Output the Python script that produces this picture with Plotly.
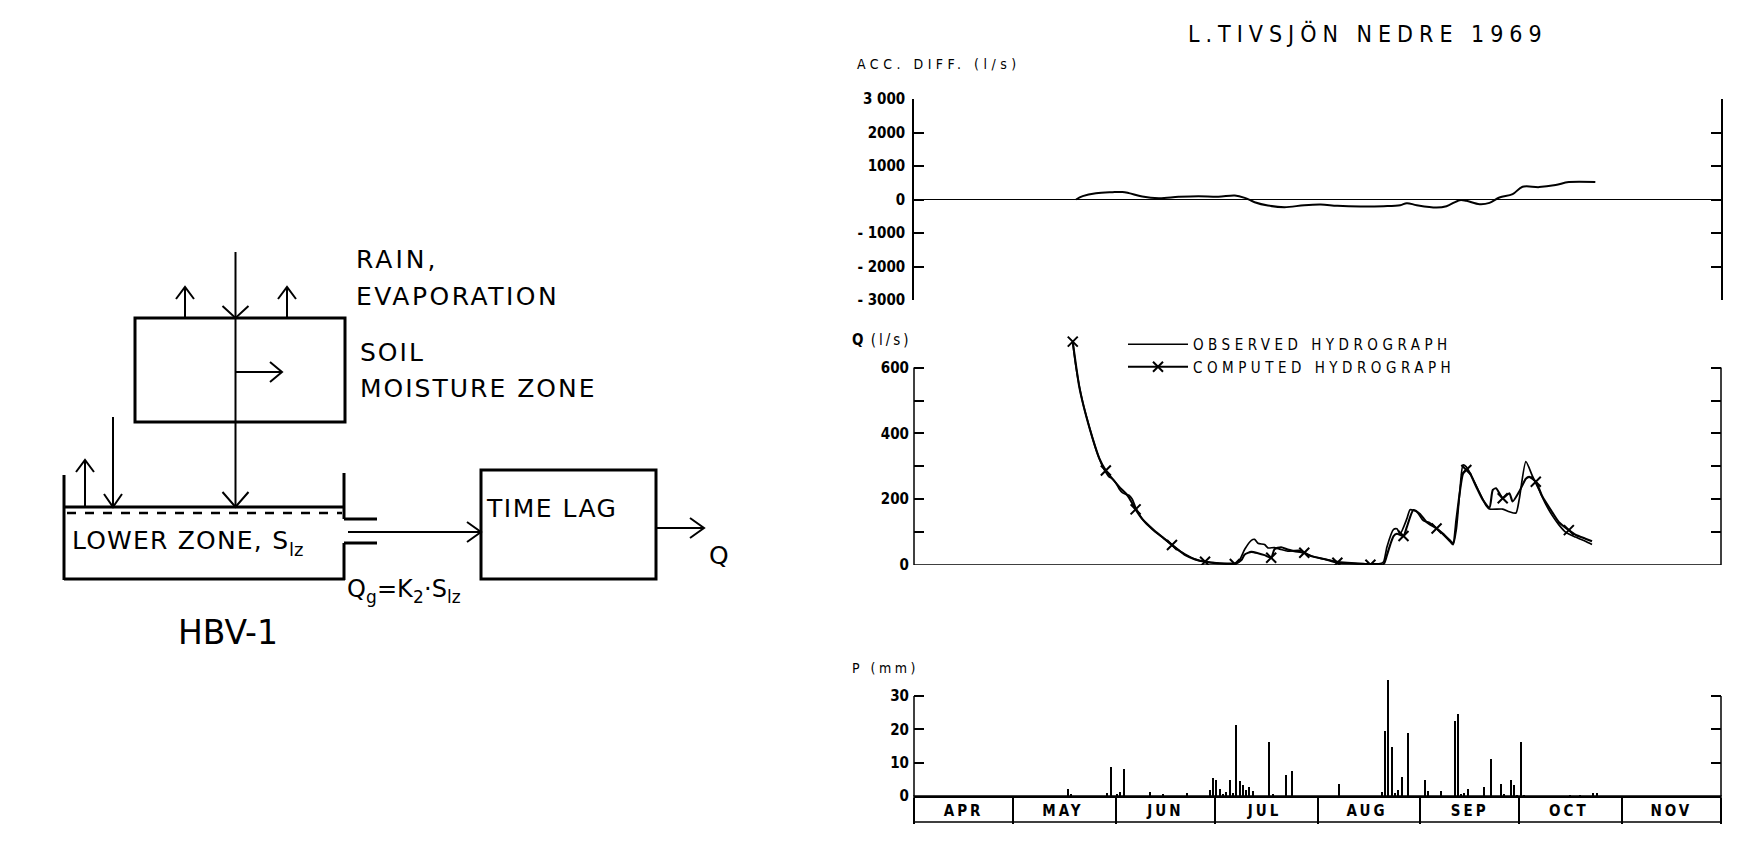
import plotly.graph_objects as go

W, H = 1743, 842

# ---- values ----
acc_dates = ["1969-05-20", "1969-05-22", "1969-05-26", "1969-05-31", "1969-06-03", "1969-06-05",
             "1969-06-09", "1969-06-14", "1969-06-20", "1969-06-26", "1969-07-02", "1969-07-07",
             "1969-07-10", "1969-07-13", "1969-07-17", "1969-07-22", "1969-07-28", "1969-08-02",
             "1969-08-07", "1969-08-14", "1969-08-21", "1969-08-26", "1969-08-28", "1969-08-31",
             "1969-09-06", "1969-09-09", "1969-09-13", "1969-09-15", "1969-09-19", "1969-09-22",
             "1969-09-25", "1969-09-29", "1969-10-02", "1969-10-07", "1969-10-12", "1969-10-16",
             "1969-10-24"]
acc_diff = [0, 100, 190, 220, 225, 190, 90, 40, 80, 100, 80, 120, 50, -80, -180, -230, -170, -150,
            -190, -210, -200, -170, -110, -170, -240, -200, -20, -40, -140, -100, 60, 160, 380, 370,
            430, 520, 520]

obs_dates = ["1969-05-19", "1969-05-20", "1969-05-22", "1969-05-24", "1969-05-26", "1969-05-28",
             "1969-05-29", "1969-05-30", "1969-05-31", "1969-06-01", "1969-06-02", "1969-06-03",
             "1969-06-04", "1969-06-05", "1969-06-06", "1969-06-07", "1969-06-09", "1969-06-11",
             "1969-06-13", "1969-06-15", "1969-06-18", "1969-06-20", "1969-06-22", "1969-06-25",
             "1969-06-28", "1969-07-02", "1969-07-06", "1969-07-08", "1969-07-10", "1969-07-12",
             "1969-07-13", "1969-07-14", "1969-07-16", "1969-07-17", "1969-07-19", "1969-07-21",
             "1969-07-23", "1969-07-25", "1969-07-27", "1969-07-29", "1969-08-02", "1969-08-06",
             "1969-08-10", "1969-08-15", "1969-08-20", "1969-08-21", "1969-08-22", "1969-08-24",
             "1969-08-25", "1969-08-26", "1969-08-28", "1969-08-29", "1969-08-31", "1969-09-02",
             "1969-09-04", "1969-09-06", "1969-09-08", "1969-09-10", "1969-09-11", "1969-09-12",
             "1969-09-13", "1969-09-14", "1969-09-15", "1969-09-17", "1969-09-19", "1969-09-21",
             "1969-09-22", "1969-09-26", "1969-09-28", "1969-09-30", "1969-10-01", "1969-10-03",
             "1969-10-05", "1969-10-07", "1969-10-09", "1969-10-11", "1969-10-13", "1969-10-15",
             "1969-10-18", "1969-10-21", "1969-10-23"]
obs_q = [675, 600, 495, 420, 352, 300, 282, 268, 262, 250, 232, 220, 215, 212, 200, 175, 140, 118,
         100, 85, 60, 45, 33, 18, 10, 6, 5, 8, 48, 75, 78, 66, 62, 52, 53, 47, 42, 44, 44, 32, 20,
         12, 7, 4, 4, 10, 55, 108, 110, 95, 140, 168, 162, 135, 128, 112, 92, 72, 62, 110, 220, 304,
         298, 262, 220, 180, 170, 170, 162, 158, 200, 314, 270, 228, 185, 150, 122, 100, 85, 72, 62]

comp_dates = ["1969-05-19", "1969-05-21", "1969-05-23", "1969-05-25", "1969-05-27", "1969-05-29",
              "1969-05-31", "1969-06-02", "1969-06-04", "1969-06-05", "1969-06-07", "1969-06-09",
              "1969-06-11", "1969-06-13", "1969-06-15", "1969-06-18", "1969-06-20", "1969-06-22",
              "1969-06-25", "1969-06-28", "1969-07-02", "1969-07-07", "1969-07-09", "1969-07-10",
              "1969-07-12", "1969-07-14", "1969-07-16", "1969-07-18", "1969-07-19", "1969-07-21",
              "1969-07-23", "1969-07-25", "1969-07-28", "1969-07-30", "1969-08-03", "1969-08-07",
              "1969-08-12", "1969-08-17", "1969-08-21", "1969-08-22", "1969-08-23", "1969-08-24",
              "1969-08-25", "1969-08-27", "1969-08-28", "1969-08-30", "1969-09-01", "1969-09-03",
              "1969-09-06", "1969-09-08", "1969-09-10", "1969-09-11", "1969-09-12", "1969-09-14",
              "1969-09-15", "1969-09-16", "1969-09-18", "1969-09-20", "1969-09-22", "1969-09-23",
              "1969-09-24", "1969-09-26", "1969-09-28", "1969-09-29", "1969-10-01", "1969-10-03",
              "1969-10-04", "1969-10-06", "1969-10-08", "1969-10-11", "1969-10-13", "1969-10-16",
              "1969-10-18", "1969-10-21", "1969-10-23"]
comp_q = [679, 540, 455, 385, 325, 287, 262, 238, 218, 205, 169, 140, 120, 102, 86, 61, 45, 30, 17,
          10, 5, 3, 15, 32, 40, 36, 30, 22, 48, 54, 47, 42, 37, 27, 18, 7, 4, 1, 3, 30, 62, 88, 95,
          88, 115, 167, 155, 130, 111, 95, 75, 66, 140, 278, 289, 280, 238, 198, 175, 228, 233, 203,
          218, 193, 223, 262, 268, 253, 208, 160, 130, 106, 92, 80, 72]
# days on which the computed curve carries an X
comp_marks = ["1969-05-19", "1969-05-29", "1969-06-07", "1969-06-18", "1969-06-28", "1969-07-07",
              "1969-07-18", "1969-07-28", "1969-08-07", "1969-08-17", "1969-08-27", "1969-09-06",
              "1969-09-15", "1969-09-26", "1969-10-06", "1969-10-16"]

p_dates = ["1969-05-17", "1969-05-18", "1969-05-29", "1969-05-30", "1969-06-01", "1969-06-02",
           "1969-06-03", "1969-06-11", "1969-06-15", "1969-06-22", "1969-06-29", "1969-06-30",
           "1969-07-01", "1969-07-02", "1969-07-03", "1969-07-04", "1969-07-05", "1969-07-06",
           "1969-07-07", "1969-07-08", "1969-07-09", "1969-07-10", "1969-07-11", "1969-07-12",
           "1969-07-17", "1969-07-18", "1969-07-22", "1969-07-24", "1969-08-07", "1969-08-20",
           "1969-08-21", "1969-08-22", "1969-08-23", "1969-08-24", "1969-08-25", "1969-08-26",
           "1969-08-28", "1969-09-02", "1969-09-03", "1969-09-07", "1969-09-11", "1969-09-12",
           "1969-09-13", "1969-09-14", "1969-09-15", "1969-09-20", "1969-09-22", "1969-09-25",
           "1969-09-26", "1969-09-28", "1969-09-29", "1969-09-30", "1969-10-01", "1969-10-02",
           "1969-10-16", "1969-10-19", "1969-10-23", "1969-10-24"]
p_mm = [2.2, 0.6, 0.9, 8.7, 0.8, 1.2, 8.2, 1.2, 0.7, 1.0, 1.9, 5.5, 5.0, 2.2, 0.6, 1.2, 5.0, 0.9,
        21.4, 4.7, 3.5, 2.0, 2.9, 1.5, 16.4, 0.7, 6.4, 7.7, 3.6, 1.2, 19.7, 34.8, 14.7, 0.9, 2.0,
        5.9, 18.9, 4.9, 1.7, 1.5, 22.5, 24.7, 0.7, 1.0, 2.2, 2.7, 11.2, 3.7, 0.7, 4.9, 3.5, 0.4,
        16.2, 0.5, 0.2, 0.2, 1.0, 1.0]

months = ["APR", "MAY", "JUN", "JUL", "AUG", "SEP", "OCT", "NOV"]
month_starts = ["1969-04-01", "1969-05-01", "1969-06-01", "1969-07-01", "1969-08-01",
                "1969-09-01", "1969-10-01", "1969-11-01", "1969-12-01"]
month_mids = ["1969-04-16", "1969-05-16", "1969-06-16", "1969-07-16", "1969-08-16",
              "1969-09-16", "1969-10-16", "1969-11-16"]

acc_ticks = [-3000, -2000, -1000, 0, 1000, 2000, 3000]
acc_labels = ["- 3000", "- 2000", "- 1000", "0", "1000", "2000", "3 000"]
q_ticks = [0, 200, 400, 600]
q_minor = [100, 300, 500]
p_ticks = [0, 10, 20, 30]


def fx(x):
    return x / W


def fy(y):
    return 1 - y / H


def ls(t, px):
    return '<span style="letter-spacing:%spx">%s</span>' % (px, t)


FONT = "DejaVu Sans Condensed, DejaVu Sans, sans-serif"
DIAG = "DejaVu Sans, sans-serif"

fig = go.Figure()

fig.add_trace(go.Scatter(x=acc_dates, y=acc_diff, mode="lines", xaxis="x", yaxis="y",
                         line=dict(color="black", width=2, shape="spline"), showlegend=False))

fig.add_trace(go.Scatter(x=obs_dates, y=obs_q, mode="lines", xaxis="x", yaxis="y2",
                         name=ls("OBSERVED HYDROGRAPH", 4.5),
                         line=dict(color="black", width=1.7, shape="spline", smoothing=0.6)))

mark_col = ["black" if d in comp_marks else "rgba(0,0,0,0)" for d in comp_dates]
fig.add_trace(go.Scatter(x=comp_dates, y=comp_q, mode="lines+markers", xaxis="x", yaxis="y2",
                         name=ls("COMPUTED HYDROGRAPH", 4.5),
                         line=dict(color="black", width=2.1, shape="spline", smoothing=0.6),
                         marker=dict(symbol="x-thin", size=10, color=mark_col,
                                     line=dict(color=mark_col, width=2))))

fig.add_trace(go.Bar(x=p_dates, y=p_mm, xaxis="x", yaxis="y3", xperiod=86400000,
                     xperiodalignment="middle", width=0.45 * 86400000,
                     marker=dict(color="black", line=dict(width=0)), showlegend=False))

X_DOM = [fx(914), fx(1721)]
tickfont = dict(family=FONT, size=15, color="black", weight="bold")
yax = dict(ticks="inside", ticklen=10, tickwidth=1.5, tickcolor="black", showgrid=False,
           tickmode="array", tickfont=tickfont, anchor="x", mirror="ticks", ticklabelstandoff=4,
           automargin=False)

shapes = []
# axis pieces that stop at the last labelled tick
for ref, top in (("y2", 600), ("y3", 30)):
    for xd in (0, 1):
        shapes.append(dict(type="line", xref="x domain", yref=ref, x0=xd, x1=xd, y0=0, y1=top,
                           line=dict(color="black", width=1.5)))
shapes.append(dict(type="line", xref="x domain", yref="y2", x0=0, x1=1, y0=0, y1=0,
                   line=dict(color="black", width=1.5)))
# month table under the precipitation axis
shapes.append(dict(type="rect", xref="x domain", yref="paper", x0=0, x1=1, y0=fy(822), y1=fy(796),
                   line=dict(color="black", width=1.5)))


# ---- HBV-1 sketch on the left ----
def seg(x0, y0, x1, y1, w=2, dash="solid"):
    shapes.append(dict(type="line", xref="paper", yref="paper", x0=fx(x0), y0=fy(y0),
                       x1=fx(x1), y1=fy(y1), line=dict(color="black", width=w, dash=dash)))


def head(x, y, d, w=10, l=13):
    if d == "down":
        pts = [(x - w, y - l), (x, y), (x + w, y - l)]
    elif d == "up":
        pts = [(x - w, y + l), (x, y), (x + w, y + l)]
    else:
        pts = [(x - l, y - w), (x, y), (x - l, y + w)]
    path = "M %f,%f L %f,%f L %f,%f" % (fx(pts[0][0]), fy(pts[0][1]), fx(pts[1][0]),
                                        fy(pts[1][1]), fx(pts[2][0]), fy(pts[2][1]))
    shapes.append(dict(type="path", xref="paper", yref="paper", path=path,
                       line=dict(color="black", width=2)))


# soil moisture box
shapes.append(dict(type="rect", xref="paper", yref="paper", x0=fx(135), x1=fx(345),
                   y0=fy(422), y1=fy(318), line=dict(color="black", width=3)))
seg(235.5, 252, 235.5, 507)
head(235.5, 318, "down", 13, 12)
head(235.5, 507, "down", 13, 15)
for ex in (185, 287):
    seg(ex, 318, ex, 287)
    head(ex, 287, "up", 9, 12)
seg(235.5, 372, 282, 372)
head(282, 372, "right", 10, 12)

# lower zone
seg(64, 475, 64, 580, 3)
seg(64, 579, 345, 579, 3)
seg(64, 507, 345, 507, 3)
seg(67, 513, 342, 513, 2.5, "dash")
seg(344, 473, 344, 519, 3)
seg(344, 543, 344, 580, 3)
seg(344, 519, 377, 519, 3)
seg(344, 543, 377, 543, 3)
seg(85, 507, 85, 460)
head(85, 460, "up", 9, 12)
seg(113, 417, 113, 507)
head(113, 507, "down", 9, 13)
seg(348, 532, 481, 532)
head(481, 532, "right", 10, 14)

# time lag box and outflow
shapes.append(dict(type="rect", xref="paper", yref="paper", x0=fx(481), x1=fx(656),
                   y0=fy(579), y1=fy(470), line=dict(color="black", width=3)))
seg(656, 528, 704, 528)
head(704, 528, "right", 10, 14)

annotations = []


def note(text, x, y, size, family=DIAG, xanchor="left", yanchor="middle"):
    annotations.append(dict(text=text, x=fx(x), y=fy(y), xref="paper", yref="paper",
                            xanchor=xanchor, yanchor=yanchor, showarrow=False,
                            font=dict(family=family, size=size, color="black")))


note(ls("RAIN,", 3), 354, 260, 25)
note(ls("EVAPORATION", 2.5), 354, 296, 25)
note(ls("SOIL", 2), 358, 352, 25)
note(ls("MOISTURE ZONE", 2), 358, 388, 25)
note(ls("LOWER ZONE, S", 1.2), 70, 540, 25)
note("lz", 287, 549, 18)
note(ls("TIME LAG", 1.5), 484, 508, 25)
note("Q", 707, 555, 25)
# Qg = K2 . Slz, subscripts set as smaller, lowered pieces
note("Q", 345, 589, 24)
note("g", 364, 597, 17)
note("=K", 375, 589, 24)
note("2", 411, 597, 17)
note("·S", 422, 589, 24)
note("lz", 445, 597, 17)
note("HBV-1", 228, 632, 33, xanchor="center")

# chart labels
note(ls("L.TIVSJÖN NEDRE 1969", 6), 1368, 33, 23, FONT, "center")
note(ls("ACC. DIFF. (l/s)", 4.5), 855, 64, 14, FONT)
note("<b>Q</b>" + ls(" (l/s)", 3), 850, 340, 15, FONT)
note(ls("P (mm)", 3.5), 850, 668, 14, FONT)

fig.update_layout(
    width=W, height=H,
    margin=dict(l=0, r=0, t=0, b=0, autoexpand=False),
    paper_bgcolor="white", plot_bgcolor="white",
    font=dict(family=FONT, color="black"),
    bargap=0,
    showlegend=True,
    legend=dict(x=fx(1123), y=fy(328), xanchor="left", yanchor="top", bgcolor="rgba(0,0,0,0)",
                font=dict(family=FONT, size=15, color="black"), itemwidth=60,
                tracegroupgap=0),
    xaxis=dict(domain=X_DOM, type="date", range=["1969-04-01", "1969-12-01"], anchor="y3",
               tickmode="array", tickvals=month_mids, ticktext=[ls(m, 3) for m in months],
               ticks="", showline=True, linecolor="black", linewidth=1.5, showgrid=False,
               zeroline=False, automargin=False,
               tickfont=dict(family=FONT, size=15, color="black", weight="bold"),
               minor=dict(tickmode="array", tickvals=month_starts, ticks="outside", ticklen=26,
                          tickwidth=1.5, tickcolor="black", showgrid=False)),
    yaxis=dict(domain=[fy(300), fy(99)], range=[-3000, 3000], tickvals=acc_ticks,
               ticktext=acc_labels, showline=True, linecolor="black", linewidth=1.5,
               zeroline=True, zerolinecolor="black", zerolinewidth=1.2, **yax),
    yaxis2=dict(domain=[fy(565), fy(334.7)], range=[0, 700], tickvals=q_ticks,
                ticktext=[str(v) for v in q_ticks], showline=False, zeroline=False,
                minor=dict(tickmode="array", tickvals=q_minor, ticks="inside", ticklen=10,
                           tickwidth=1.5, tickcolor="black", showgrid=False), **yax),
    yaxis3=dict(domain=[fy(796), fy(672.7)], range=[0, 37], tickvals=p_ticks,
                ticktext=[str(v) for v in p_ticks], showline=False, zeroline=False, **yax),
    shapes=shapes,
    annotations=annotations,
)

fig.write_html("out.html", config={"displayModeBar": False},
               post_script="document.body.style.margin = '0';")
